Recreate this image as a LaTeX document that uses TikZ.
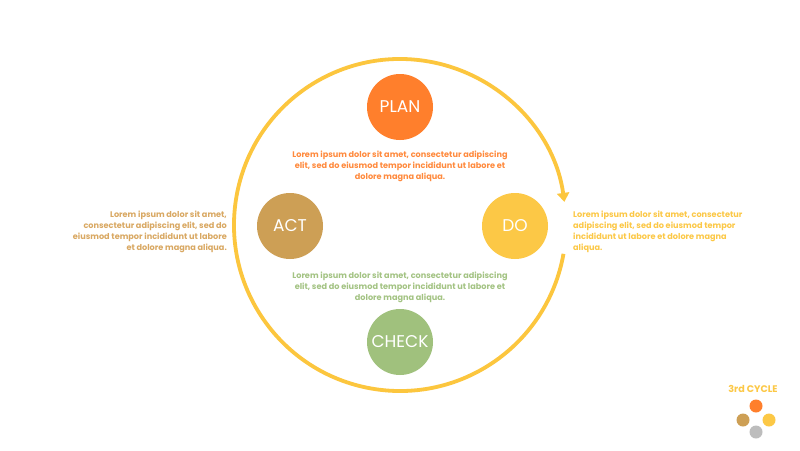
\documentclass[tikz,border=0pt]{standalone}
\usepackage{fontspec}
\setmainfont{Poppins}
\usetikzlibrary{arrows.meta}
\definecolor{ringc}{HTML}{FCC63E}
\definecolor{planc}{HTML}{FF7F2C}
\definecolor{actc}{HTML}{CD9F55}
\definecolor{doc}{HTML}{FCC846}
\definecolor{checkc}{HTML}{A0C17D}
\definecolor{plant}{HTML}{FF8A3D}
\definecolor{actt}{HTML}{D9A862}
\definecolor{checkt}{HTML}{A3C383}
\definecolor{grayc}{HTML}{BDBDBD}
\tikzset{
  stage/.style={circle, minimum size=66pt, inner sep=0pt, text=white, font=\fontsize{17}{18}\selectfont},
  para/.style={font=\bfseries\fontsize{8.15}{11}\selectfont, inner sep=0pt},
  ring/.style={draw=ringc, line width=3.8pt},
  legdot/.style={circle, minimum size=13pt, inner sep=0pt}
}
\begin{document}
\begin{tikzpicture}[x=1pt,y=-1pt]
\useasboundingbox[fill=white] (0,0) rectangle (800,450);
\coordinate (c) at (400,225);
\draw[ring, -{Triangle[width=12pt,length=9pt]}] (c) ++(10:166) arc[start angle=10, end angle=352, radius=166];
\node[stage, fill=planc] (plan) at (400,107) {PLAN};
\node[stage, fill=actc] (act) at (290,226) {ACT};
\node[stage, fill=doc] (do) at (515,226) {DO};
\node[stage, fill=checkc] (check) at (400,342) {CHECK};
\node[para, text=plant, align=center, anchor=north] (plantext) at (400,150.5) {Lorem ipsum dolor sit amet, consectetur adipiscing\\elit, sed do eiusmod tempor incididunt ut labore et\\dolore magna aliqua.};
\node[para, text=checkt, align=center, anchor=north] (checktext) at (400,271.5) {Lorem ipsum dolor sit amet, consectetur adipiscing\\elit, sed do eiusmod tempor incididunt ut labore et\\dolore magna aliqua.};
\node[para, text=actt, align=right, anchor=north east] (acttext) at (227,210.5) {Lorem ipsum dolor sit amet,\\consectetur adipiscing elit, sed do\\eiusmod tempor incididunt ut labore\\et dolore magna aliqua.};
\node[para, text=doc, align=left, anchor=north west] (dotext) at (573,210.5) {Lorem ipsum dolor sit amet, consectetur\\adipiscing elit, sed do eiusmod tempor\\incididunt ut labore et dolore magna\\aliqua.};
\node[font=\bfseries\fontsize{9.6}{10}\selectfont, text=doc, inner sep=0pt] (cyc) at (753,389) {3rd CYCLE};
\node[legdot, fill=planc] (l1) at (756,406) {};
\node[legdot, fill=actc] (l2) at (743,420) {};
\node[legdot, fill=doc] (l3) at (769,420) {};
\node[legdot, fill=grayc] (l4) at (756,432) {};
\end{tikzpicture}
\end{document}
